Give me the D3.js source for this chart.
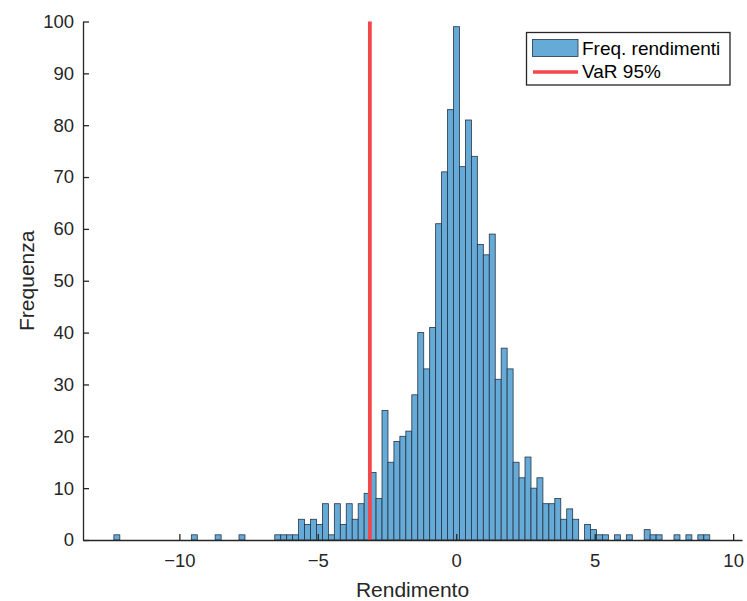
<!DOCTYPE html>
<html>
<head>
<meta charset="utf-8">
<script src="https://cdn.jsdelivr.net/npm/d3@7"></script>
<style>
  body { margin: 0; background: #fff; }
  svg { display: block; font-family: "Liberation Sans", Arial, sans-serif; }
  .axis path, .axis line { stroke: #262626; stroke-width: 1.3; }
  .axis text { font-size: 18.5px; fill: #262626; }
</style>
</head>
<body>
<svg id="chart" width="747" height="601"></svg>
<script>
// istogramma dei rendimenti: 100 classi di uguale ampiezza
const binStart = -12.365;
const binWidth = 0.2152;
const counts = [
  1, 0, 0, 0, 0, 0, 0, 0, 0, 0,
  0, 0, 0, 1, 0, 0, 0, 1, 0, 0,
  0, 1, 0, 0, 0, 0, 0, 1, 1, 1,
  1, 4, 3, 4, 3, 7, 1, 7, 3, 7,
  4, 7, 9, 13, 8, 25, 15, 19, 20, 21,
  28, 40, 33, 41, 61, 71, 83, 99, 72, 81,
  74, 57, 55, 59, 31, 37, 33, 15, 12, 16,
  10, 12, 7, 7, 8, 4, 6, 4, 0, 3,
  2, 1, 1, 0, 1, 0, 1, 0, 0, 2,
  1, 1, 0, 0, 1, 0, 1, 0, 1, 1
];
const varLevel = -3.12;
const xTicks = [-10, -5, 0, 5, 10];
const yTicks = [0, 10, 20, 30, 40, 50, 60, 70, 80, 90, 100];
const legendLabels = ["Freq. rendimenti", "VaR 95%"];

const barFill = "#66aad7";
const barStroke = "#263445";
const varColor = "#f2474b";

const svg = d3.select("#chart");

const x = d3.scaleLinear().domain([-13.48, 10.32]).range([83, 742]);
const y = d3.scaleLinear().domain([0, 100]).range([540, 21.5]);

const bins = counts.map((c, i) => ({
  x0: binStart + i * binWidth,
  x1: binStart + (i + 1) * binWidth,
  n: c
}));

// barre
svg.append("g")
  .selectAll("rect")
  .data(bins.filter(d => d.n > 0))
  .enter()
  .append("rect")
  .attr("x", d => x(d.x0))
  .attr("y", d => y(d.n))
  .attr("width", d => x(d.x1) - x(d.x0))
  .attr("height", d => y(0) - y(d.n))
  .attr("fill", barFill)
  .attr("stroke", barStroke)
  .attr("stroke-width", 0.8);

// linea VaR
svg.append("line")
  .attr("x1", x(varLevel))
  .attr("x2", x(varLevel))
  .attr("y1", y(0))
  .attr("y2", y(100))
  .attr("stroke", varColor)
  .attr("stroke-width", 3.8);

// assi (sopra le barre, tacche verso l'interno)
svg.append("g")
  .attr("class", "axis")
  .attr("transform", `translate(0,${y(0)})`)
  .call(d3.axisBottom(x).tickValues(xTicks).tickSize(-6).tickSizeOuter(0).tickPadding(14));

svg.append("g")
  .attr("class", "axis")
  .attr("transform", `translate(${x.range()[0]},0)`)
  .call(d3.axisLeft(y).tickValues(yTicks).tickSize(-6).tickSizeOuter(0).tickPadding(9));

svg.selectAll(".axis .domain").attr("fill", "none");

// etichette assi
svg.append("text")
  .attr("x", (x.range()[0] + x.range()[1]) / 2)
  .attr("y", 597)
  .attr("text-anchor", "middle")
  .attr("font-size", 21)
  .attr("fill", "#262626")
  .text("Rendimento");

svg.append("text")
  .attr("transform", `translate(34,${(y(0) + y(100)) / 2}) rotate(-90)`)
  .attr("text-anchor", "middle")
  .attr("font-size", 21)
  .attr("fill", "#262626")
  .text("Frequenza");

// legenda
const legend = svg.append("g");
legend.append("rect")
  .attr("x", 526.5).attr("y", 32.5)
  .attr("width", 203.5).attr("height", 52.5)
  .attr("fill", "#fff")
  .attr("stroke", "#262626")
  .attr("stroke-width", 1.3);

legend.append("rect")
  .attr("x", 532.5).attr("y", 39.5)
  .attr("width", 45.5).attr("height", 17)
  .attr("fill", barFill)
  .attr("stroke", barStroke)
  .attr("stroke-width", 0.8);

legend.append("line")
  .attr("x1", 533).attr("x2", 578)
  .attr("y1", 72).attr("y2", 72)
  .attr("stroke", varColor)
  .attr("stroke-width", 3.3);

legend.selectAll("text.lab")
  .data(legendLabels)
  .enter()
  .append("text")
  .attr("class", "lab")
  .attr("x", 582)
  .attr("y", (d, i) => 55 + i * 23)
  .attr("font-size", 19)
  .attr("fill", "#000")
  .text(d => d);
</script>
</body>
</html>
